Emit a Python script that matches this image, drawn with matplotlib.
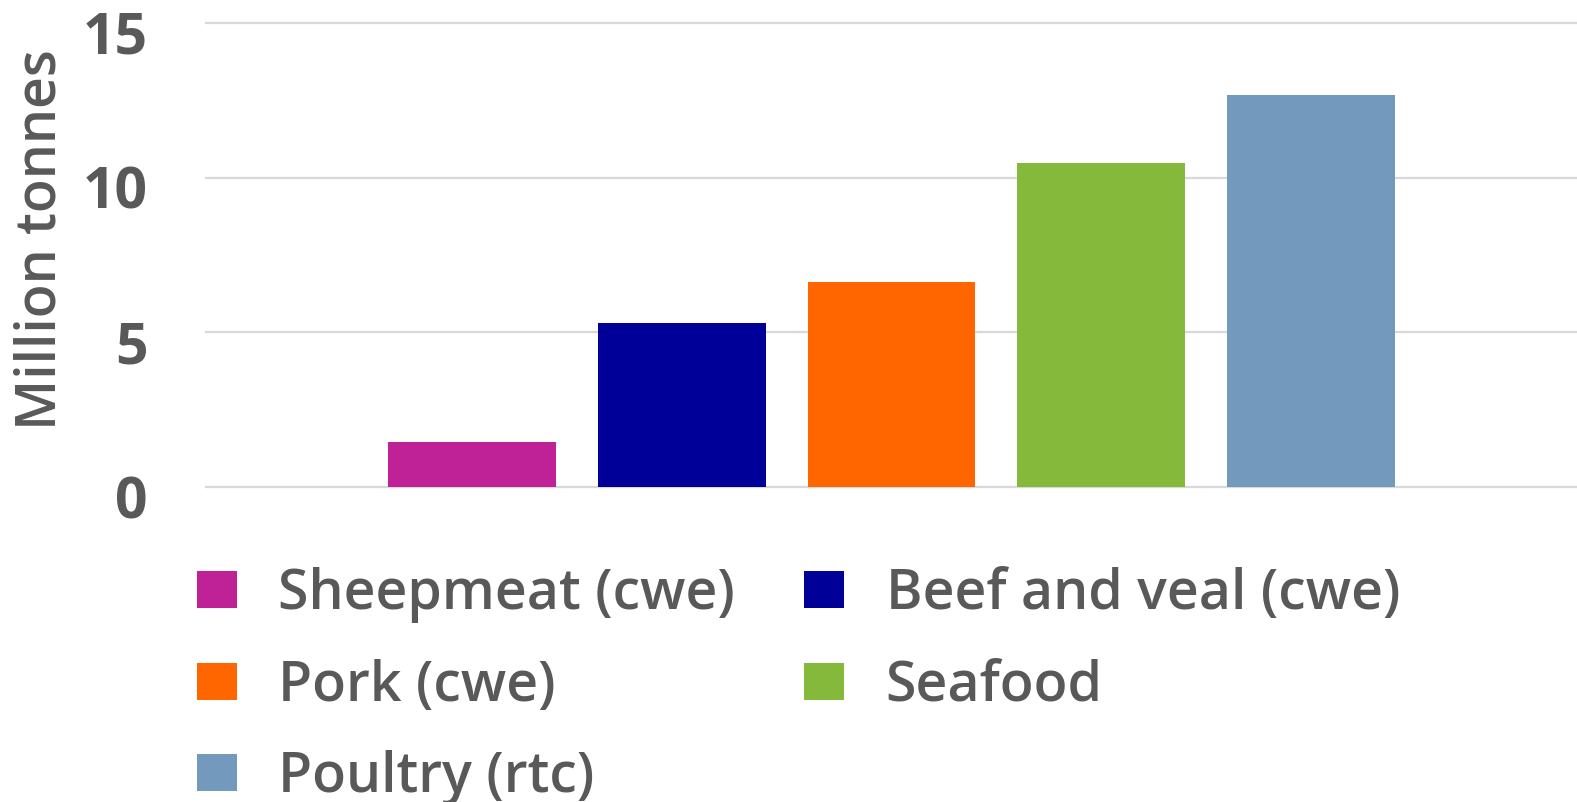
# Bar chart: production by meat type (million tonnes)

import matplotlib.pyplot as plt
import matplotlib.transforms as mtransforms
from matplotlib.patches import Patch

# Data
categories = ["Sheepmeat (cwe)", "Beef and veal (cwe)", "Pork (cwe)", "Seafood", "Poultry (rtc)"]
values = [1.46, 5.30, 6.62, 10.46, 12.65]
colors = ["#BE2296", "#000099", "#FF6600", "#84B93C", "#7399BD"]
yticks = [0, 5, 10, 15]

text_color = "#595959"
W, H = 1577, 802

fig = plt.figure(figsize=(W / 100, H / 100), dpi=100)
ax = fig.add_axes([206 / W, 1 - 487.3 / H, 1 - 206 / W, (487.3 - 22.7) / H])

x = list(range(len(categories)))
ax.bar(x, values, width=0.8, color=colors, zorder=2)

ax.set_xlim(-1.27, 5.27)
ax.set_ylim(0, 15)
ax.set_xticks([])
ax.set_yticks(yticks)
ax.set_yticklabels([str(t) for t in yticks], fontfamily="Open Sans",
                   fontweight="bold", fontsize=41, color=text_color)
ax.tick_params(axis="y", length=0, pad=42)
# tick labels sit a little below their gridlines in the original
shift = mtransforms.ScaledTranslation(0, -0.09, fig.dpi_scale_trans)
for lab in ax.get_yticklabels():
    lab.set_transform(lab.get_transform() + shift)

for s in ax.spines.values():
    s.set_visible(False)

ax.yaxis.grid(True, color="#D9D9D9", linewidth=1.6)
ax.set_axisbelow(True)
for gl in ax.get_ygridlines():
    gl.set_clip_on(False)

# Y label
fig.text(42 / W, 1 - 240 / H, "Million tonnes", rotation=90, ha="center", va="center",
         fontfamily="Open Sans", fontweight="semibold", fontsize=40, color=text_color)

# Legend, row-major order with two columns
handles = [Patch(facecolor=c, label=l) for c, l in zip(colors, categories)]
order = [0, 2, 4, 1, 3]
leg = fig.legend([handles[i] for i in order], [categories[i] for i in order],
                 ncol=2, loc="upper left", bbox_to_anchor=(197 / W, 1 - 567 / H),
                 frameon=False, borderpad=0, borderaxespad=0,
                 handlelength=0.72, handleheight=0.65, handletextpad=0.74,
                 columnspacing=1.25, labelspacing=0.64,
                 prop={"family": "Open Sans", "weight": "semibold", "size": 40})
for t in leg.get_texts():
    t.set_color(text_color)

fig.savefig("out.png", dpi=100)
